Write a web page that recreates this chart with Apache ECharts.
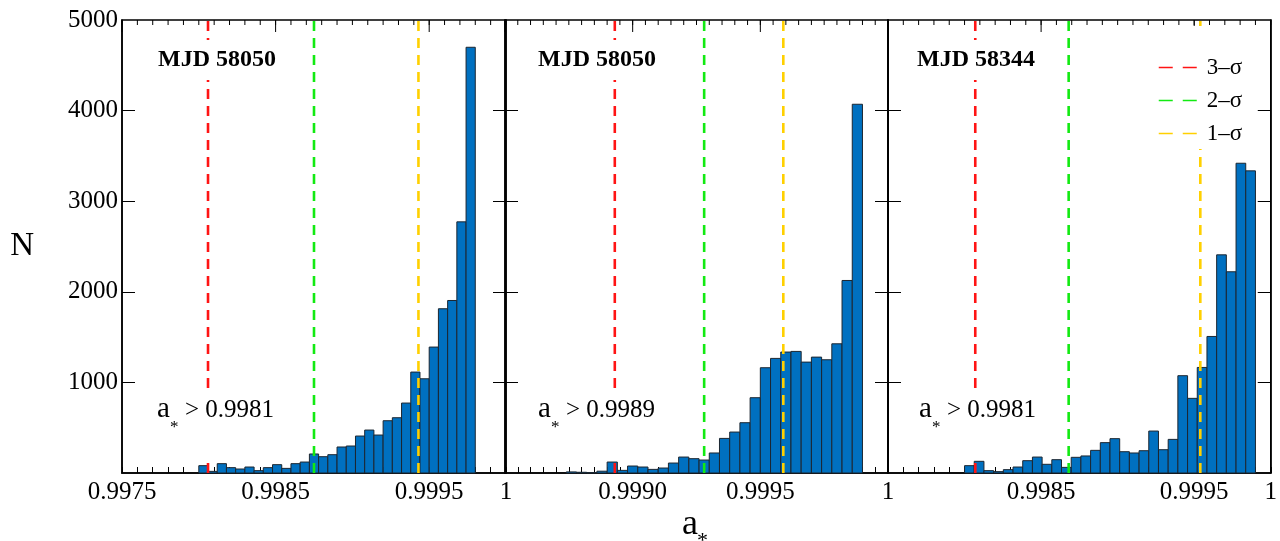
<!DOCTYPE html>
<html><head><meta charset="utf-8">
<script src="https://cdn.jsdelivr.net/npm/echarts@6/dist/echarts.min.js"></script>
<style>html,body{margin:0;padding:0;background:#fff}#c{width:1280px;height:541px}</style>
</head><body><div id="c"></div>
<script>
// ---- data ----
const panelNames = ['MJD 58050', 'MJD 58050', 'MJD 58344'];
const limitLabels = ['0.9981', '0.9989', '0.9981'];
const xMin = [0.9975, 0.9985, 0.9975];
const xMax = [1, 1, 1];
const xLabels1 = [0.9975, 0.9985, 0.9995, 1];
const xLabels2 = [0.9990, 0.9995, 1];
const xLabels3 = [0.9985, 0.9995, 1];
const yLabels = [1000, 2000, 3000, 4000, 5000];
const binStart = [0.9980, 0.99874, 0.9980];
const binEnd = [0.9998, 0.9999, 0.9999];
const counts1 = [81, 18, 103, 59, 44, 66, 26, 59, 92, 51, 103, 121, 210, 180, 202, 287, 298, 408, 474, 419, 577, 610, 772, 1114, 1040, 1390, 1813, 1904, 2772, 4699];
const counts2 = [12, 8, 3, 20, 121, 29, 77, 66, 40, 55, 110, 176, 158, 143, 221, 382, 452, 555, 831, 1162, 1265, 1335, 1342, 1224, 1279, 1250, 1426, 2125, 4070];
const counts3 = [81, 129, 26, 15, 37, 66, 136, 176, 96, 147, 62, 173, 188, 250, 335, 379, 235, 221, 246, 463, 257, 371, 1074, 824, 1165, 1507, 2408, 2221, 3419, 3335];
const sigma3 = [0.99806, 0.99893, 0.99807];
const sigma2 = [0.99875, 0.99928, 0.99868];
const sigma1 = [0.99943, 0.99959, 0.99954];
const sigmaNames = ['3–σ', '2–σ', '1–σ'];

// ---- layout / style ----
const FONT = 'Liberation Serif';
const Y_MAX = 5000;
const lefts = [122, 505, 888];
const widths = [384, 383, 384];
const TOP = 20, HEIGHT = 453;
const minorStep = [0.0001, 0.00005, 0.0001];
const majorStep = [0.001, 0.0005, 0.001];
const sigmaColors = ['#ff1414', '#12ea12', '#ffd000'];
const countsAll = [counts1, counts2, counts3];
const labelsAll = [xLabels1, xLabels2, xLabels3];
const sigmaAll = [sigma3, sigma2, sigma1];

function steps(a, b, s) {
  const out = [];
  const n = Math.round((b - a) / s);
  for (let i = 0; i <= n; i++) out.push(Math.round((a + i * s) * 1e7) / 1e7);
  return out;
}

const grid = [], xAxis = [], yAxis = [], series = [], graphic = [];
const tickLine = { color: '#000', width: 1 };
function frameLine() { return { show: true, onZero: false, lineStyle: { color: '#000', width: 1.5 } }; }

// ticks hanging from the top frame, placed through the axis scales
function topTicks(g, values, len) {
  return {
    type: 'custom', xAxisIndex: g, yAxisIndex: 2 * g, z: 5, clip: false,
    encode: { x: 0, y: 1 },
    data: values.map(v => [v, Y_MAX]),
    renderItem: (params, api) => {
      const p = api.coord([api.value(0), api.value(1)]);
      return { type: 'line', shape: { x1: p[0], y1: p[1], x2: p[0], y2: p[1] + len },
        style: { stroke: '#000', lineWidth: 1 } };
    }
  };
}

for (let g = 0; g < 3; g++) {
  grid.push({ left: lefts[g], top: TOP, width: widths[g], height: HEIGHT,
    show: true, borderColor: '#000', borderWidth: 1.5, backgroundColor: 'transparent' });
  xAxis.push({
    type: 'value', gridIndex: g, min: xMin[g], max: xMax[g], splitLine: { show: false },
    position: 'bottom', axisLine: frameLine(),
    axisTick: { show: true, inside: true, length: 6, customValues: steps(xMin[g], xMax[g], minorStep[g]), lineStyle: tickLine },
    axisLabel: { show: true, customValues: labelsAll[g], margin: 7, color: '#000', fontFamily: FONT, fontSize: 25,
      formatter: v => (Math.abs(v - 1) < 1e-9 ? '1' : v.toFixed(4)) }
  });
  yAxis.push({
    type: 'value', gridIndex: g, min: 0, max: Y_MAX, splitLine: { show: false }, axisLine: frameLine(),
    position: 'left',
    axisTick: { show: true, inside: true, length: 13, customValues: [1000, 2000, 3000, 4000], lineStyle: tickLine },
    axisLabel: { show: g === 0, customValues: yLabels, margin: 4, color: '#000', fontFamily: FONT, fontSize: 25,
      formatter: v => String(v) },
    name: g === 0 ? 'N' : '', nameLocation: 'middle', nameRotate: 0, nameGap: 88,
    nameTextStyle: { fontFamily: FONT, fontSize: 33, color: '#000' }
  });
  yAxis.push({
    type: 'value', gridIndex: g, min: 0, max: Y_MAX, splitLine: { show: false }, axisLine: frameLine(),
    position: 'right',
    axisTick: { show: true, inside: true, length: 13, customValues: [1000, 2000, 3000, 4000], lineStyle: tickLine },
    axisLabel: { show: false }
  });

  // histogram bars
  const counts = countsAll[g];
  const w = (binEnd[g] - binStart[g]) / counts.length;
  const rows = counts.map((c, i) => [binStart[g] + i * w, binStart[g] + (i + 1) * w, c]);
  series.push({
    type: 'custom', xAxisIndex: g, yAxisIndex: 2 * g, z: 2,
    encode: { x: [0, 1], y: 2 },
    data: rows,
    renderItem: (params, api) => {
      const p0 = api.coord([api.value(0), api.value(2)]);
      const p1 = api.coord([api.value(1), 0]);
      return { type: 'rect', shape: { x: p0[0], y: p0[1], width: p1[0] - p0[0], height: p1[1] - p0[1] },
        style: { fill: '#0070c0', stroke: '#1c2630', lineWidth: 1 } };
    }
  });
  series.push(topTicks(g, steps(xMin[g], xMax[g], minorStep[g]), 5));
  series.push(topTicks(g, steps(xMin[g], xMax[g], majorStep[g]), 12));
  for (let s = 0; s < 3; s++) {
    const xv = sigmaAll[s][g];
    series.push({
      type: 'line', name: sigmaNames[s], xAxisIndex: g, yAxisIndex: 2 * g, z: 3,
      symbol: 'none', data: [[xv, 0], [xv, Y_MAX]],
      itemStyle: { color: sigmaColors[s] },
      lineStyle: { color: sigmaColors[s], width: 2.6, type: [10, 7] }
    });
  }
}

// annotations (text positions are layout)
const mjdX = [154, 534, 913];
const annX = [157, 538, 919];
for (let g = 0; g < 3; g++) {
  graphic.push({ type: 'text', z: 100, x: mjdX[g], y: 60,
    style: { text: panelNames[g], font: 'bold 24px "Liberation Serif"', fill: '#000', verticalAlign: 'middle',
      backgroundColor: '#fff', padding: [8, 4] } });
  graphic.push({ type: 'rect', z: 100, shape: { x: annX[g] - 4, y: 392, width: 130, height: 64 }, style: { fill: '#fff' } });
  graphic.push({ type: 'text', z: 101, x: annX[g], y: 424, style: { text: 'a', font: '29px "Liberation Serif"', fill: '#000', verticalAlign: 'bottom' } });
  graphic.push({ type: 'text', z: 101, x: annX[g] + 13, y: 436, style: { text: '*', font: '17px "Liberation Serif"', fill: '#000', verticalAlign: 'bottom' } });
  graphic.push({ type: 'text', z: 101, x: annX[g] + 28, y: 410, style: { text: '> ' + limitLabels[g], font: '25px "Liberation Serif"', fill: '#000', verticalAlign: 'middle' } });
}
graphic.push({ type: 'text', z: 100, x: 682, y: 543, style: { text: 'a', font: '36px "Liberation Serif"', fill: '#000', verticalAlign: 'bottom' } });
graphic.push({ type: 'text', z: 100, x: 697, y: 552, style: { text: '*', font: '22px "Liberation Serif"', fill: '#000', verticalAlign: 'bottom' } });

const chart = echarts.init(document.getElementById('c'), null, { renderer: 'canvas' });
chart.setOption({
  animation: false,
  backgroundColor: '#fff',
  grid, xAxis, yAxis, series, graphic,
  legend: {
    data: sigmaNames, orient: 'vertical', left: 1148, top: 26, itemWidth: 40, itemHeight: 20, itemGap: 10,
    backgroundColor: '#fff', padding: [30, 10, 4, 10], z: 50,
    textStyle: { fontFamily: FONT, fontSize: 23, color: '#000', padding: [0, 0, 0, 3] },
    itemStyle: { opacity: 0 },
    lineStyle: { width: 1.5, type: [14, 10] }
  }
});
</script></body></html>
